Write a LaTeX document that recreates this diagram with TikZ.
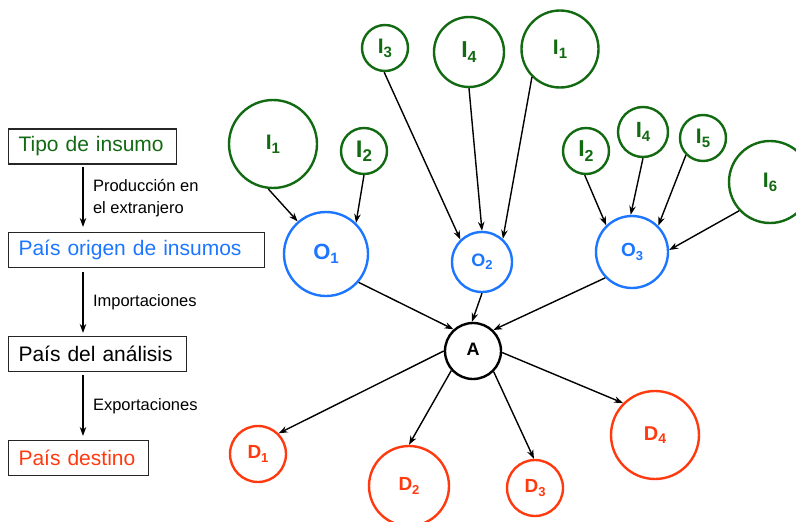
\documentclass[tikz,border=0pt]{standalone}
\usepackage{fontspec}
\setmainfont{Liberation Sans}
\usetikzlibrary{arrows.meta}
\definecolor{verde}{RGB}{18,106,18}
\definecolor{azul}{RGB}{28,118,255}
\definecolor{rojo}{RGB}{255,58,16}
\newcommand{\etq}[3]{\fontsize{#1}{#1}\selectfont\bfseries #2\raisebox{-.35ex}{\fontsize{\the\numexpr#1*7/10\relax}{\the\numexpr#1*7/10\relax}\selectfont #3}}
\begin{document}
\begin{tikzpicture}[x=1pt,y=-1pt,
  nodo/.style={circle,draw,line width=2.4pt,inner sep=0pt},
  ins/.style={nodo,draw=verde,text=verde},
  ori/.style={nodo,draw=azul,text=azul},
  des/.style={nodo,draw=rojo,text=rojo},
  caja/.style={draw=black!85,line width=1.1pt,anchor=west,minimum height=35pt,
    inner xsep=10pt,align=left,font=\fontsize{21}{21}\selectfont},
  nota/.style={right=6pt,align=left,font=\fontsize{16.5}{22}\selectfont},
  flecha/.style={-{Stealth[length=9pt,width=6.5pt]},line width=1.4pt}]
\useasboundingbox (0,0) rectangle (796,522);
\node[caja,text width=148pt,text=verde] (tipo) at (8,146.5) {Tipo de insumo};
\node[caja,text width=236pt,text=azul] (origen) at (8,250) {País origen de insumos};
\node[caja,text width=158pt] (analisis) at (8,354) {País del análisis};
\node[caja,text width=120pt,text=rojo] (destino) at (8,458) {País destino};
\coordinate (eje) at (83,0);
\draw[flecha,shorten <=2pt,shorten >=5pt] (tipo.south -| eje) -- node[nota] {Producción en\\el extranjero} (origen.north -| eje);
\draw[flecha,shorten <=4pt,shorten >=3pt] (origen.south -| eje) -- node[nota] {Importaciones} (analisis.north -| eje);
\draw[flecha,shorten <=3pt,shorten >=4pt] (analisis.south -| eje) -- node[nota] {Exportaciones} (destino.north -| eje);
\node[ins,minimum size=88pt] (i1a) at (273,144) {\etq{21}{I}{1}};
\node[ins,minimum size=46pt] (i2a) at (364,151) {\etq{24}{I}{2}};
\node[ins,minimum size=46pt] (i3) at (385,48) {\etq{21}{I}{3}};
\node[ins,minimum size=70pt] (i4a) at (469,52) {\etq{23}{I}{4}};
\node[ins,minimum size=77pt] (i1b) at (560,49) {\etq{21}{I}{1}};
\node[ins,minimum size=46pt] (i2b) at (586,151) {\etq{23}{I}{2}};
\node[ins,minimum size=50pt] (i4b) at (643,132) {\etq{22}{I}{4}};
\node[ins,minimum size=46pt] (i5) at (703,138) {\etq{21}{I}{5}};
\node[ins,minimum size=82pt] (i6) at (770,182) {\etq{21}{I}{6}};
\node[ori,minimum size=84pt] (o1) at (326,254) {\etq{22}{O}{1}};
\node[ori,minimum size=60pt] (o2) at (482,262) {\etq{18}{O}{2}};
\node[ori,minimum size=72pt] (o3) at (632,252) {\etq{19}{O}{3}};
\node[nodo,minimum size=56pt] (a) at (473,351) {\etq{18}{A}{}};
\node[des,minimum size=56pt] (d1) at (258,454) {\etq{19}{D}{1}};
\node[des,minimum size=80pt] (d2) at (409,486) {\etq{19}{D}{2}};
\node[des,minimum size=56pt] (d3) at (535,488) {\etq{19}{D}{3}};
\node[des,minimum size=88pt] (d4) at (655,435) {\etq{20}{D}{4}};
\draw[flecha] (i1a.-96) -- (o1.131);
\draw[flecha] (i2a.-90) -- (o1.46);
\draw[flecha] (i3.-92) -- (o2.134);
\draw[flecha] (i4a.-90) -- (o2.90);
\draw[flecha] (i1b.-135) -- (o2.48);
\draw[flecha] (i2b.-93) -- (o3.134);
\draw[flecha] (i4b.-90) -- (o3.92);
\draw[flecha] (i5.-135) -- (o3.45);
\draw[flecha] (i6.-137) -- (o3.3);
\draw[flecha] (o1.-41) -- (a.132);
\draw[flecha] (o2.-90) -- (a.92);
\draw[flecha] (o3.-136) -- (a.46);
\draw[flecha] (a.180) -- (d1.45);
\draw[flecha] (a.-138) -- (d2.90);
\draw[flecha] (a.-45) -- (d3.92);
\draw[flecha] (a.-3) -- (d4.135);
\end{tikzpicture}
\end{document}
